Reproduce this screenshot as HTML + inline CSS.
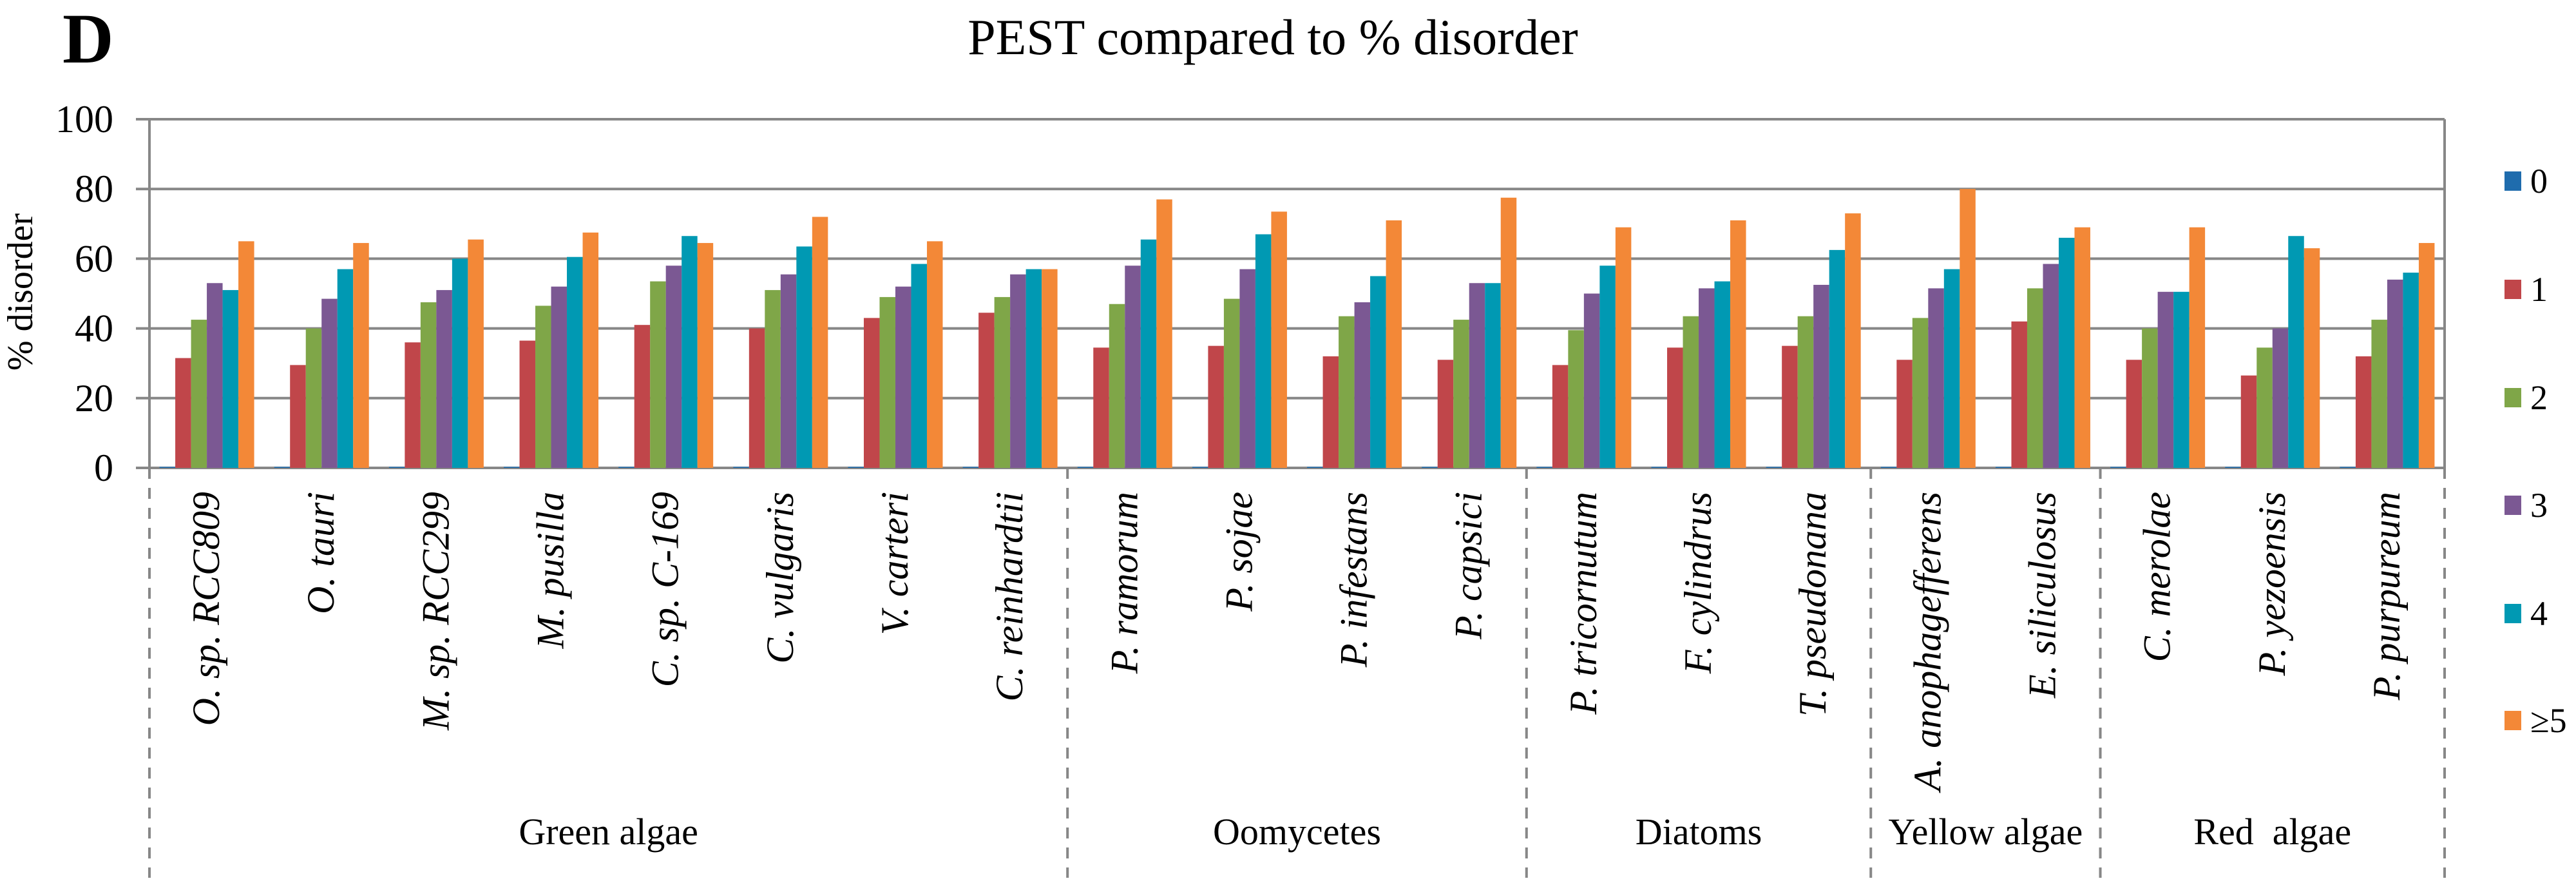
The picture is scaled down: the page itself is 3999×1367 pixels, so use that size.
<!DOCTYPE html>
<html><head><meta charset="utf-8"><style>
html,body{margin:0;padding:0;background:#fff}
svg, svg text{font-family:"Liberation Serif","DejaVu Serif",serif}
</style></head><body>
<svg id="chart" width="3999" height="1362" viewBox="0 0 3999 1362" xmlns="http://www.w3.org/2000/svg" font-family="Liberation Serif, serif">
<text x="97" y="97" font-size="110" font-weight="bold" font-family="Liberation Serif, serif">D</text>
<text x="1976" y="84" font-size="78" text-anchor="middle" font-family="Liberation Serif, serif">PEST compared to % disorder</text>
<text transform="translate(50,453) rotate(-90)" font-size="56" text-anchor="middle" font-family="Liberation Serif, serif">% disorder</text>
<g id="grid"></g><g id="bars"></g><g id="axes"></g><g id="labels"></g><g id="legend"></g>
</svg>
<script>
const categories=["O. sp. RCC809","O. tauri","M. sp. RCC299","M. pusilla","C. sp. C-169","C. vulgaris","V. carteri","C. reinhardtii","P. ramorum","P. sojae","P. infestans","P. capsici","P. tricornutum","F. cylindrus","T. pseudonana","A. anophagefferens","E. siliculosus","C. merolae","P. yezoensis","P. purpureum"];
const seriesNames=["0","1","2","3","4","≥5"];
const s0=[0.3,0.3,0.3,0.3,0.3,0.3,0.3,0.3,0.3,0.3,0.3,0.3,0.3,0.3,0.3,0.3,0.3,0.3,0.3,0.3];
const s1=[31.5,29.5,36,36.5,41,40,43,44.5,34.5,35,32,31,29.5,34.5,35,31,42,31,26.5,32];
const s2=[42.5,40,47.5,46.5,53.5,51,49,49,47,48.5,43.5,42.5,39.5,43.5,43.5,43,51.5,40,34.5,42.5];
const s3=[53,48.5,51,52,58,55.5,52,55.5,58,57,47.5,53,50,51.5,52.5,51.5,58.5,50.5,40,54];
const s4=[51,57,60,60.5,66.5,63.5,58.5,57,65.5,67,55,53,58,53.5,62.5,57,66,50.5,66.5,56];
const s5=[65,64.5,65.5,67.5,64.5,72,65,57,77,73.5,71,77.5,69,71,73,80,69,69,63,64.5];
const yTicks=[0,20,40,60,80,100];
const groups=["Green algae","Oomycetes","Diatoms","Yellow algae","Red\u00A0\u00A0algae"];
const groupSizes=[8,4,3,2,3];
const series=[s0,s1,s2,s3,s4,s5];
const colors=["#1F6CAD","#C0464A","#7FA648","#7B5893","#0099B3","#F38837"];
const NS="http://www.w3.org/2000/svg";
const FF="Liberation Serif, serif";
const L=232,R=3795,T=185,B=726;
const cw=(R-L)/categories.length, bw=24.5;
const y=v=>B-(v/100)*(B-T);
const x=i=>L+i*cw;
function mk(tag,attrs,parent,txt){const e=document.createElementNS(NS,tag);for(const k in attrs)e.setAttribute(k,attrs[k]);if(txt!==undefined){e.setAttribute('font-family',FF);e.textContent=txt;}parent.appendChild(e);return e;}
const grid=document.getElementById('grid'),bars=document.getElementById('bars'),axes=document.getElementById('axes'),labels=document.getElementById('labels'),legend=document.getElementById('legend');
yTicks.forEach(t=>{
  const ln=mk('line',{x1:211,x2:R,y1:y(t),y2:y(t),stroke:'#878787','stroke-width':4},grid);
  
  
  const tx=mk('text',{x:176,y:y(t)+20,'font-size':60,'text-anchor':'end'},labels,String(t));
  
  
});
const rb=mk('line',{x1:R,x2:R,y1:T,y2:B,stroke:'#878787','stroke-width':4},axes);


const ya=mk('line',{x1:L,x2:L,y1:T,y2:B+8,stroke:'#878787','stroke-width':4},axes);


categories.forEach((c,i)=>{
  const off=x(i)+(cw-6*bw)/2;
  series.forEach((s,k)=>{
    const r=mk('rect',{x:off+k*bw,y:y(s[i]),width:bw,height:B-y(s[i]),fill:colors[k]},bars);
    
    
  });
  const cx=x(i)+cw/2+19;
  const t=mk('text',{transform:`translate(${cx},763) rotate(-90)`,'font-size':60,'font-style':'italic','text-anchor':'end'},labels,c);
  
  
});
let start=0;
const divs=[0];
groupSizes.forEach((n,g)=>{
  const gx=(x(start)+x(start+n))/2;
  const t=mk('text',{x:gx,y:1310,'font-size':58,'text-anchor':'middle'},labels,groups[g]);
  
  
  start+=n;divs.push(start);
});
divs.forEach(d=>{
  const ln=mk('line',{x1:x(d),x2:x(d),y1:B,y2:1362,stroke:'#878787','stroke-width':4,'stroke-dasharray':'17 14'},axes);
  
  
});
const lys=[281,449,617,784,952,1118];
seriesNames.forEach((n,k)=>{
  const g=mk('g',{},legend);
  
  
  mk('rect',{x:3888,y:lys[k]-15,width:26,height:30,fill:colors[k]},g);
  mk('text',{x:3928,y:lys[k]+18,'font-size':54},g,n);
});
</script>
</body></html>
